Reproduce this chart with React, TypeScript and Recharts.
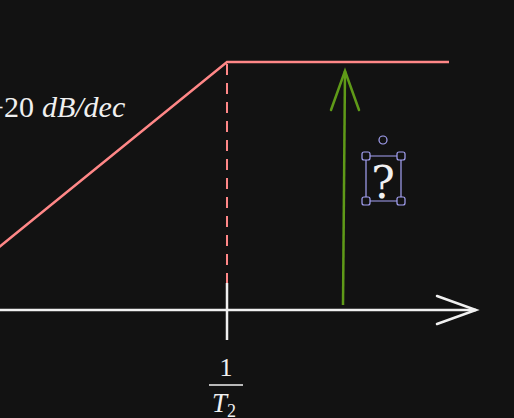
import React from "react";
import { ComposedChart, Line, XAxis, YAxis, ReferenceDot, Scatter } from "recharts";

// canvas units: x to the right, y downward (y axis reversed)
const asymptote = [
  { x: -2, y: 248 },
  { x: 227, y: 62 },
  { x: 449, y: 62 },
];
const breakLine = [
  { x: 227, y: 64 },
  { x: 227, y: 292 },
];
const freqAxis = [
  { x: 0, y: 310 },
  { x: 476, y: 310 },
];
const freqArrowHead = [
  { x: 437, y: 296 },
  { x: 476, y: 310 },
  { x: 437, y: 324 },
];
const tick = [
  { x: 227, y: 283 },
  { x: 227, y: 340 },
];
const gainArrow = [
  { x: 343, y: 305 },
  { x: 345, y: 71 },
];
const gainArrowHead = [
  { x: 331, y: 110 },
  { x: 345, y: 71 },
  { x: 359, y: 110 },
];
const selectBox = [
  { x: 366, y: 156 },
  { x: 401, y: 156 },
  { x: 401, y: 201 },
  { x: 366, y: 201 },
  { x: 366, y: 156 },
];
const handles = [
  { x: 366, y: 156 },
  { x: 401, y: 156 },
  { x: 366, y: 201 },
  { x: 401, y: 201 },
];
const rotateHandle = { x: 383, y: 140 };

const slopeLabel = { x: -13, y: 117, text: "+20", unit: "dB/dec" };
const breakLabel = { x: 226, y: 376, num: "1", den: "T", sub: "2" };
const questionLabel = { x: 383, y: 198, text: "?" };

const BG = "#121212";
const RED = "#ff8787";
const WHITE = "#f0f0f0";
const GREEN = "#5f9a18";
const SELECT = "#a5a2f5";
const SERIF = "'Liberation Serif', 'DejaVu Serif', serif";

const Handle = (props: any) => (
  <rect
    x={props.cx - 4}
    y={props.cy - 4}
    width={8}
    height={8}
    rx={2}
    fill={BG}
    stroke={SELECT}
    strokeWidth={1.2}
  />
);

const lineProps = { dot: false, activeDot: false, isAnimationActive: false } as const;

export default function App() {
  return (
    <div style={{ position: "absolute", left: 0, top: 0, width: 514, height: 418, background: BG }}>
      <ComposedChart width={514} height={418} margin={{ top: 0, right: 0, bottom: 0, left: 0 }}>
        <XAxis type="number" dataKey="x" domain={[0, 514]} hide allowDataOverflow />
        <YAxis type="number" dataKey="y" domain={[0, 418]} reversed hide allowDataOverflow />
        <Line data={freqAxis} dataKey="y" stroke={WHITE} strokeWidth={2.5} {...lineProps} />
        <Line data={freqArrowHead} dataKey="y" stroke={WHITE} strokeWidth={2.5} strokeLinecap="round" {...lineProps} />
        <Line data={breakLine} dataKey="y" stroke={RED} strokeWidth={2} strokeDasharray="11 8" {...lineProps} />
        <Line data={tick} dataKey="y" stroke={WHITE} strokeWidth={2.5} {...lineProps} />
        <Line data={asymptote} dataKey="y" stroke={RED} strokeWidth={2.5} {...lineProps} />
        <Line data={gainArrow} dataKey="y" stroke={GREEN} strokeWidth={2.5} {...lineProps} />
        <Line data={gainArrowHead} dataKey="y" stroke={GREEN} strokeWidth={2.5} strokeLinecap="round" {...lineProps} />
        <Line data={selectBox} dataKey="y" stroke={SELECT} strokeWidth={1.2} {...lineProps} />
        <Scatter data={handles} dataKey="y" shape={Handle} isAnimationActive={false} activeShape={Handle} />
        <ReferenceDot
          x={rotateHandle.x}
          y={rotateHandle.y}
          r={4}
          fill={BG}
          stroke={SELECT}
          strokeWidth={1.2}
        />
        <ReferenceDot
          x={0}
          y={slopeLabel.y}
          shape={(p: any) => (
            <text x={slopeLabel.x} y={p.cy} fill={WHITE} fontFamily={SERIF} fontSize={30}>
              {slopeLabel.text}
              <tspan fontStyle="italic" dx={8}>{slopeLabel.unit}</tspan>
            </text>
          )}
        />
        <ReferenceDot
          x={breakLabel.x}
          y={breakLabel.y}
          shape={(p: any) => (
            <g fill={WHITE} fontFamily={SERIF}>
              <text x={p.cx} y={p.cy} fontSize={26} textAnchor="middle">{breakLabel.num}</text>
              <line x1={p.cx - 17} x2={p.cx + 17} y1={p.cy + 9} y2={p.cy + 9} stroke={WHITE} strokeWidth={1.5} />
              <text x={p.cx - 2} y={p.cy + 36} fontSize={27} textAnchor="middle" fontStyle="italic">
                {breakLabel.den}
                <tspan fontSize={18} fontStyle="normal" dy={5}>{breakLabel.sub}</tspan>
              </text>
            </g>
          )}
        />
        <ReferenceDot
          x={questionLabel.x}
          y={questionLabel.y}
          shape={(p: any) => (
            <text x={p.cx} y={p.cy} fill={WHITE} fontFamily="'DejaVu Serif', serif" fontSize={44} textAnchor="middle">
              {questionLabel.text}
            </text>
          )}
        />
      </ComposedChart>
    </div>
  );
}
